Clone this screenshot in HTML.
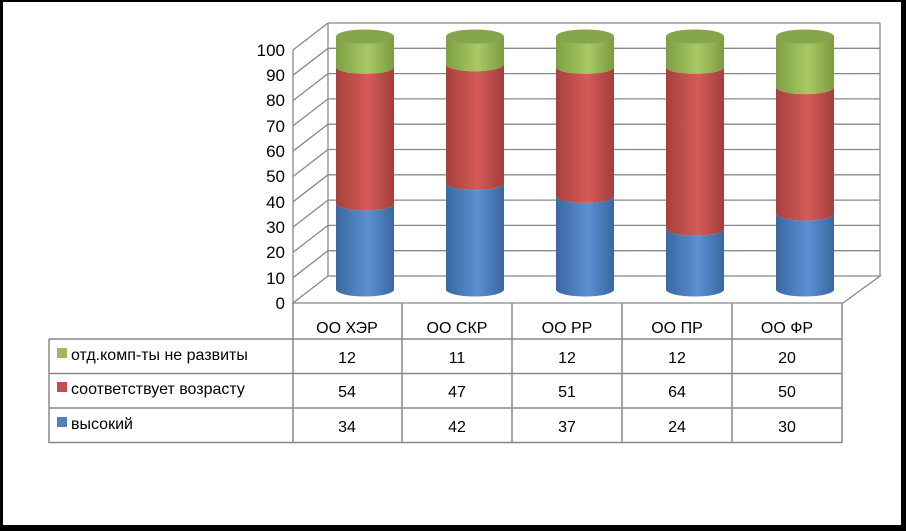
<!DOCTYPE html>
<html><head><meta charset="utf-8"><style>
html,body{margin:0;padding:0;background:#fff}
svg{display:block}
text{font-family:"Liberation Sans","DejaVu Sans",sans-serif}
</style></head><body>
<svg width="906" height="531" viewBox="0 0 906 531" xmlns="http://www.w3.org/2000/svg">
<defs>
<linearGradient id="gb" x1="0" x2="1" y1="0" y2="0"><stop offset="0" stop-color="#3a68a2"/><stop offset="0.55" stop-color="#5c90d2"/><stop offset="1" stop-color="#3a67a0"/></linearGradient>
<linearGradient id="gr" x1="0" x2="1" y1="0" y2="0"><stop offset="0" stop-color="#a8403d"/><stop offset="0.55" stop-color="#d45b57"/><stop offset="1" stop-color="#a23e3b"/></linearGradient>
<linearGradient id="gg" x1="0" x2="1" y1="0" y2="0"><stop offset="0" stop-color="#7f9f43"/><stop offset="0.55" stop-color="#a8c965"/><stop offset="1" stop-color="#7c9b41"/></linearGradient>
</defs>
<rect x="0" y="0" width="906" height="531" fill="#000"/>
<rect x="3" y="2" width="898" height="523" fill="#fff"/>
<g stroke="#888" stroke-width="1.3" fill="none">
<polygon points="293,303 843,303 880,276 328,276" fill="#fff"/>
<line x1="328" y1="23" x2="328" y2="276"/>
<line x1="880" y1="23" x2="880" y2="276"/>
<line x1="293" y1="50" x2="293" y2="303"/>
<line x1="328" y1="250.7" x2="880" y2="250.7"/><line x1="293" y1="277.7" x2="328" y2="250.7"/>
<line x1="328" y1="225.4" x2="880" y2="225.4"/><line x1="293" y1="252.4" x2="328" y2="225.4"/>
<line x1="328" y1="200.1" x2="880" y2="200.1"/><line x1="293" y1="227.1" x2="328" y2="200.1"/>
<line x1="328" y1="174.8" x2="880" y2="174.8"/><line x1="293" y1="201.8" x2="328" y2="174.8"/>
<line x1="328" y1="149.5" x2="880" y2="149.5"/><line x1="293" y1="176.5" x2="328" y2="149.5"/>
<line x1="328" y1="124.2" x2="880" y2="124.2"/><line x1="293" y1="151.2" x2="328" y2="124.2"/>
<line x1="328" y1="98.9" x2="880" y2="98.9"/><line x1="293" y1="125.9" x2="328" y2="98.9"/>
<line x1="328" y1="73.6" x2="880" y2="73.6"/><line x1="293" y1="100.6" x2="328" y2="73.6"/>
<line x1="328" y1="48.3" x2="880" y2="48.3"/><line x1="293" y1="75.3" x2="328" y2="48.3"/>
<line x1="328" y1="23" x2="880" y2="23"/><line x1="293" y1="50" x2="328" y2="23"/>
</g>
<g font-size="17" fill="#000" text-anchor="end">
<text x="285" y="309">0</text><text x="285" y="284">10</text><text x="285" y="258">20</text><text x="285" y="233">30</text><text x="285" y="208">40</text><text x="285" y="182">50</text><text x="285" y="157">60</text><text x="285" y="132">70</text><text x="285" y="106">80</text><text x="285" y="81">90</text><text x="285" y="56">100</text>
</g>
<g>
<path d="M336,203.5 L336,289.5 A29,7 0 0 0 394,289.5 L394,203.5 A29,7 0 0 1 336,203.5Z" fill="url(#gb)"/>
<path d="M336,66.9 L336,203.5 A29,7 0 0 0 394,203.5 L394,66.9 A29,7 0 0 1 336,66.9Z" fill="url(#gr)"/>
<path d="M336,36.5 L336,66.9 A29,7 0 0 0 394,66.9 L394,36.5Z" fill="url(#gg)"/>
<ellipse cx="365" cy="36.5" rx="29" ry="7" fill="#85a54a"/>

<path d="M446,183.2 L446,289.5 A29,7 0 0 0 504,289.5 L504,183.2 A29,7 0 0 1 446,183.2Z" fill="url(#gb)"/>
<path d="M446,64.3 L446,183.2 A29,7 0 0 0 504,183.2 L504,64.3 A29,7 0 0 1 446,64.3Z" fill="url(#gr)"/>
<path d="M446,36.5 L446,64.3 A29,7 0 0 0 504,64.3 L504,36.5Z" fill="url(#gg)"/>
<ellipse cx="475" cy="36.5" rx="29" ry="7" fill="#85a54a"/>

<path d="M556,195.9 L556,289.5 A29,7 0 0 0 614,289.5 L614,195.9 A29,7 0 0 1 556,195.9Z" fill="url(#gb)"/>
<path d="M556,66.9 L556,195.9 A29,7 0 0 0 614,195.9 L614,66.9 A29,7 0 0 1 556,66.9Z" fill="url(#gr)"/>
<path d="M556,36.5 L556,66.9 A29,7 0 0 0 614,66.9 L614,36.5Z" fill="url(#gg)"/>
<ellipse cx="585" cy="36.5" rx="29" ry="7" fill="#85a54a"/>

<path d="M666,228.8 L666,289.5 A29,7 0 0 0 724,289.5 L724,228.8 A29,7 0 0 1 666,228.8Z" fill="url(#gb)"/>
<path d="M666,66.9 L666,228.8 A29,7 0 0 0 724,228.8 L724,66.9 A29,7 0 0 1 666,66.9Z" fill="url(#gr)"/>
<path d="M666,36.5 L666,66.9 A29,7 0 0 0 724,66.9 L724,36.5Z" fill="url(#gg)"/>
<ellipse cx="695" cy="36.5" rx="29" ry="7" fill="#85a54a"/>

<path d="M776,213.6 L776,289.5 A29,7 0 0 0 834,289.5 L834,213.6 A29,7 0 0 1 776,213.6Z" fill="url(#gb)"/>
<path d="M776,87.1 L776,213.6 A29,7 0 0 0 834,213.6 L834,87.1 A29,7 0 0 1 776,87.1Z" fill="url(#gr)"/>
<path d="M776,36.5 L776,87.1 A29,7 0 0 0 834,87.1 L834,36.5Z" fill="url(#gg)"/>
<ellipse cx="805" cy="36.5" rx="29" ry="7" fill="#85a54a"/>
</g>
<g stroke="#888" stroke-width="1.5" fill="none">
<line x1="293" y1="303" x2="293" y2="443"/>
<line x1="402" y1="303" x2="402" y2="443"/>
<line x1="512" y1="303" x2="512" y2="443"/>
<line x1="622" y1="303" x2="622" y2="443"/>
<line x1="732" y1="303" x2="732" y2="443"/>
<line x1="842" y1="303" x2="842" y2="443"/>
<line x1="49" y1="339" x2="49" y2="443"/>
<line x1="49" y1="339" x2="842" y2="339"/>
<line x1="49" y1="373.5" x2="842" y2="373.5"/>
<line x1="49" y1="408" x2="842" y2="408"/>
<line x1="49" y1="442.5" x2="842" y2="442.5"/>
</g>
<g font-size="16" fill="#000" text-anchor="middle">
<text x="347" y="333">ОО ХЭР</text><text x="457" y="333">ОО СКР</text><text x="567" y="333">ОО РР</text><text x="677" y="333">ОО ПР</text><text x="787" y="333">ОО ФР</text>
<text x="347" y="363">12</text><text x="457" y="363">11</text><text x="567" y="363">12</text><text x="677" y="363">12</text><text x="787" y="363">20</text>
<text x="347" y="397">54</text><text x="457" y="397">47</text><text x="567" y="397">51</text><text x="677" y="397">64</text><text x="787" y="397">50</text>
<text x="347" y="432">34</text><text x="457" y="432">42</text><text x="567" y="432">37</text><text x="677" y="432">24</text><text x="787" y="432">30</text>
</g>
<rect x="57" y="348" width="10" height="10" fill="#9bbb59"/>
<rect x="57" y="382" width="10" height="10" fill="#c0504d"/>
<rect x="57" y="417" width="10" height="10" fill="#4f81bd"/>
<g font-size="16" fill="#000">
<text x="71" y="360">отд.комп-ты не развиты</text>
<text x="71" y="394">соответствует возрасту</text>
<text x="71" y="429">высокий</text>
</g>
</svg>
</body></html>
